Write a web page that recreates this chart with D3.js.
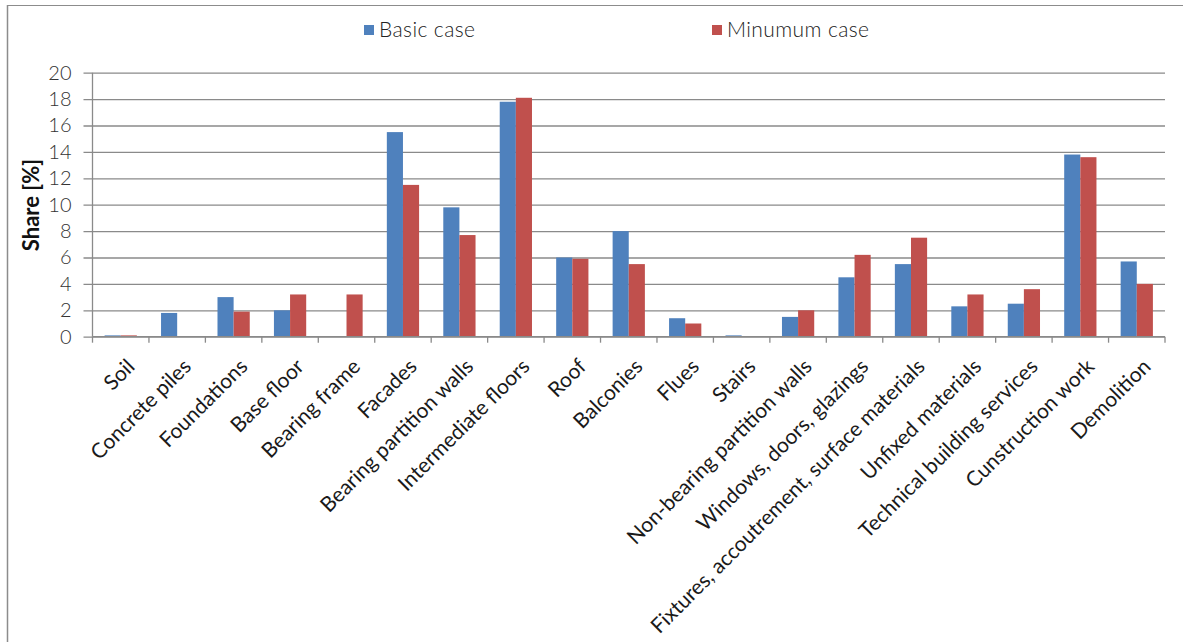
<!DOCTYPE html>
<html>
<head>
<meta charset="utf-8">
<script src="https://cdn.jsdelivr.net/npm/d3@7"></script>
<style>
  html, body { margin: 0; padding: 0; background: #fff; }
  svg { display: block; font-family: Lato, "Open Sans", sans-serif; }
</style>
</head>
<body>
<svg id="chart" width="1193" height="642"></svg>
<script>
// Building element categories and their share of the total (%)
const categories = [
  "Soil", "Concrete piles", "Foundations", "Base floor", "Bearing frame",
  "Facades", "Bearing partition walls", "Intermediate floors", "Roof",
  "Balconies", "Flues", "Stairs", "Non-bearing partition walls",
  "Windows, doors, glazings", "Fixtures, accoutrement, surface materials",
  "Unfixed materials", "Technical building services", "Cunstruction work",
  "Demolition"
];
const seriesNames = ["Basic case", "Minumum case"];
const basicCase = [0.1, 1.8, 3.0, 2.0, 0.0, 15.5, 9.8, 17.8, 6.0, 8.0, 1.4, 0.1, 1.5, 4.5, 5.5, 2.3, 2.5, 13.8, 5.7];
const minimumCase = [0.1, 0.0, 1.9, 3.2, 3.2, 11.5, 7.7, 18.1, 5.9, 5.5, 1.0, 0.0, 2.0, 6.2, 7.5, 3.2, 3.6, 13.6, 4.0];
const yTicks = [0, 2, 4, 6, 8, 10, 12, 14, 16, 18, 20];
const colors = ["#4F81BD", "#C0504D"];

const svg = d3.select("#chart");
const margin = { left: 92.5, right: 28, top: 72.7, bottom: 305.3 };
const W = 1193, H = 642;
const x0 = margin.left, x1 = W - margin.right;
const yTop = margin.top, yBot = H - margin.bottom;

// Outer chart frame
svg.append("line").attr("x1", 7).attr("x2", 1183).attr("y1", 5.5).attr("y2", 5.5)
  .attr("stroke", "#8c8c8c").attr("stroke-width", 1.2);
svg.append("line").attr("x1", 7.5).attr("x2", 7.5).attr("y1", 5).attr("y2", H)
  .attr("stroke", "#8c8c8c").attr("stroke-width", 1.5);

const x = d3.scaleBand().domain(categories).range([x0, x1]).paddingInner(0).paddingOuter(0);
const xs = d3.scaleBand().domain(seriesNames).range([0, x.bandwidth()]).paddingInner(0).paddingOuter(0.75);
const y = d3.scaleLinear().domain([0, 20]).range([yBot, yTop]);

// Horizontal gridlines with outside tick stubs
const yAxis = d3.axisLeft(y).tickValues(yTicks).tickSize(-(x1 - x0)).tickFormat(d3.format("d"));
const gy = svg.append("g").attr("transform", `translate(${x0},0)`).call(yAxis);
gy.select(".domain").remove();
gy.selectAll(".tick line").attr("stroke", "#8a8a8a").attr("stroke-width", 1.3).attr("x1", -9);
gy.selectAll(".tick text").attr("x", -21).attr("font-size", 20).attr("fill", "#333")
  .attr("font-family", "Lato, sans-serif").attr("font-weight", 300);

// Vertical axis line
svg.append("line").attr("x1", x0).attr("x2", x0).attr("y1", yTop).attr("y2", yBot)
  .attr("stroke", "#8a8a8a").attr("stroke-width", 1.3);

// Bars
const rows = categories.map((c, i) => ({ cat: c, vals: [basicCase[i], minimumCase[i]] }));
const groups = svg.append("g").selectAll("g").data(rows).join("g")
  .attr("transform", d => `translate(${x(d.cat)},0)`);
groups.selectAll("rect").data(d => d.vals.map((v, k) => ({ v, k })))
  .join("rect")
  .attr("x", d => xs(seriesNames[d.k]))
  .attr("width", xs.bandwidth())
  .attr("y", d => y(d.v))
  .attr("height", d => y(0) - y(d.v))
  .attr("fill", d => colors[d.k]);

// Category axis with tick marks between groups
const gx = svg.append("g").attr("transform", `translate(0,${yBot})`);
gx.append("line").attr("x1", x0).attr("x2", x1).attr("stroke", "#8a8a8a").attr("stroke-width", 1.3);
const boundaries = categories.map(c => x(c)).concat([x1]);
gx.selectAll("line.tk").data(boundaries).join("line").attr("class", "tk")
  .attr("x1", d => d).attr("x2", d => d).attr("y1", 0).attr("y2", 6)
  .attr("stroke", "#8a8a8a").attr("stroke-width", 1.3);
gx.selectAll("text").data(categories).join("text")
  .attr("transform", d => `translate(${x(d) + x.bandwidth() / 2 + 10},${26}) rotate(-45)`)
  .attr("text-anchor", "end")
  .attr("dy", "0.35em")
  .attr("font-size", 21)
  .attr("fill", "#1a1a1a")
  .text(d => d);

// Y axis title
svg.append("text")
  .attr("transform", `translate(39,205) rotate(-90)`)
  .attr("text-anchor", "middle")
  .attr("font-size", 22).attr("font-weight", "bold").attr("fill", "#111")
  .text("Share [%]");

// Legend
const legendX = [364, 712];
const lg = svg.append("g").selectAll("g").data(seriesNames).join("g")
  .attr("transform", (d, i) => `translate(${legendX[i]},25)`);
lg.append("rect").attr("width", 10).attr("height", 10).attr("fill", (d, i) => colors[i]);
lg.append("text").attr("x", 15).attr("y", 5).attr("dy", "0.35em")
  .attr("font-size", 21).attr("letter-spacing", 0.4)
  .attr("fill", "#222").attr("font-weight", 300).text(d => d);
</script>
</body>
</html>
